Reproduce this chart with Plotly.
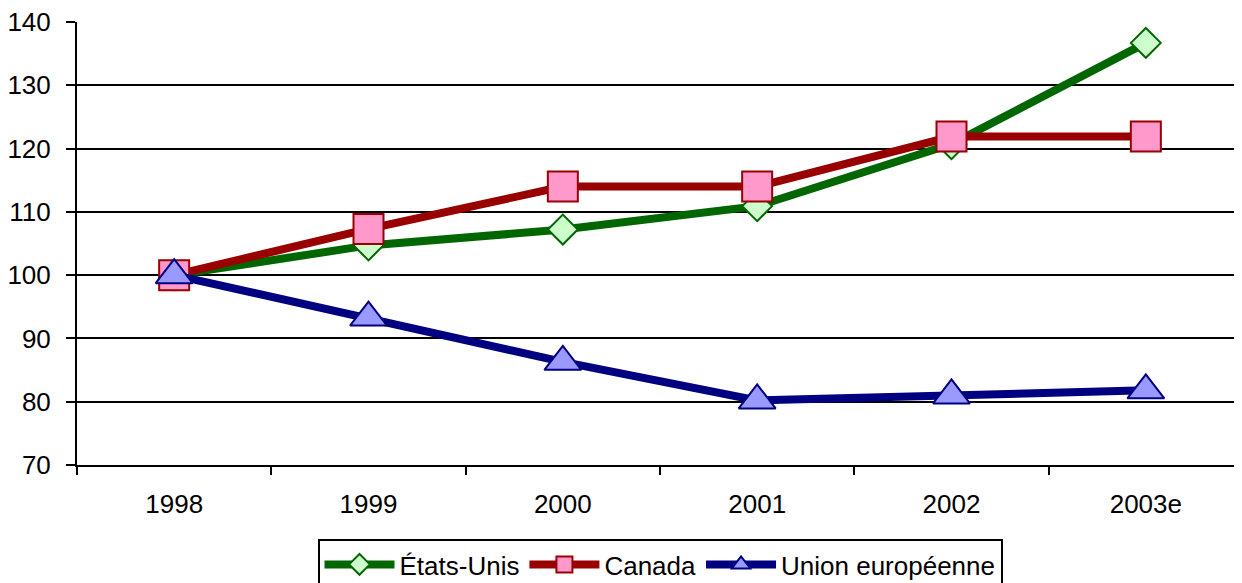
import plotly.graph_objects as go

years = ["1998", "1999", "2000", "2001", "2002", "2003e"]
etats_unis = [100, 104.7, 107.2, 110.9, 120.7, 136.7]
canada = [100, 107.3, 114.0, 114.0, 121.9, 121.9]
union_eur = [100, 93.3, 86.3, 80.2, 81.0, 81.8]

series = [
    ("États-Unis", etats_unis, "#006600", "#CCFFCC", "diamond", 23),
    ("Canada", canada, "#990000", "#FF99CC", "square", 30),
    ("Union européenne", union_eur, "#000080", "#9999FF", "triangle-up", 32),
]

fig = go.Figure()
for name, vals, lc, fc, sym, sz in series:
    fig.add_trace(go.Scatter(
        x=years, y=vals, name=name, mode="lines+markers",
        line=dict(color=lc, width=8),
        marker=dict(symbol=sym, size=sz, color=fc, line=dict(color=lc, width=2)),
    ))

font = "Liberation Sans, Arial, sans-serif"
fig.update_layout(
    width=1242, height=583,
    margin=dict(l=69, r=7, t=14, b=126),
    paper_bgcolor="white", plot_bgcolor="white",
    font=dict(family=font, size=26, color="black"),
    showlegend=True,
    legend=dict(orientation="h", x=0.5, xanchor="center",
                yref="container", y=1 - 531 / 583, yanchor="top",
                bordercolor="black", borderwidth=2, bgcolor="white",
                font=dict(size=26), itemwidth=70, tracegroupgap=0),
    xaxis=dict(type="category", range=[-0.5, 5.5], showgrid=False, automargin=False,
               showline=True, linecolor="black", linewidth=2,
               ticks="outside", tickson="boundaries", ticklen=8, tickwidth=2,
               tickcolor="black", ticklabelstandoff=15, ticklabeloverflow="allow",
               fixedrange=True),
    yaxis=dict(range=[70, 140], tickvals=[70, 80, 90, 100, 110, 120, 130, 140],
               automargin=False, ticklabeloverflow="allow",
               showgrid=True, gridcolor="black", gridwidth=2,
               showline=True, linecolor="black", linewidth=2,
               ticks="outside", ticklen=9, tickwidth=2, tickcolor="black",
               ticklabelstandoff=10, zeroline=False, fixedrange=True),
)

fig.write_html("out.html")
